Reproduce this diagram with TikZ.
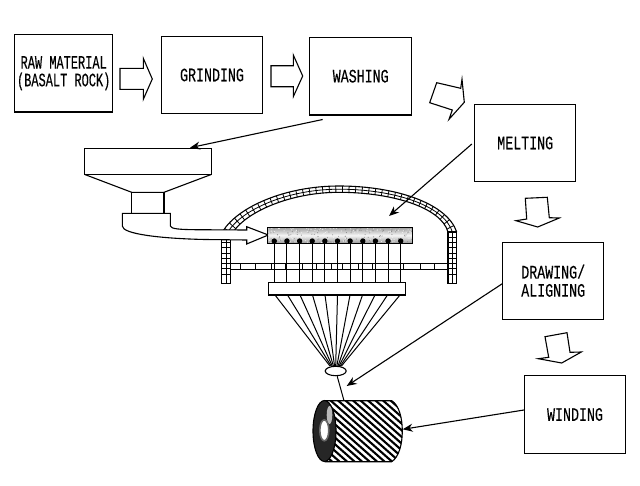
\documentclass[tikz,border=0pt]{standalone}
\usepackage{fontspec}
\usetikzlibrary{arrows.meta,calc,decorations.pathreplacing,shapes.geometric}
\newfontfamily\boxfont[FakeStretch=0.70,FakeBold=0.25]{Liberation Mono}
\newfontfamily\boxfontnarrow[FakeStretch=0.63,FakeBold=0.25]{Liberation Mono}
\tikzset{
  outline/.style={draw=black,line width=1.1pt,line join=miter},
  stagebox/.style={outline,fill=white,minimum width=101pt,minimum height=77.5pt,inner sep=0pt,
    align=center,font=\boxfont\fontsize{19}{18.2}\selectfont},
  blockarrow/.style={outline,fill=white},
  feed/.style={draw=black,line width=1.1pt,-{Stealth[length=10pt,width=8pt]}},
  brick/.style={draw=black,line width=0.8pt},
  strand/.style={draw=black,line width=1pt},
}
\begin{document}
\begin{tikzpicture}[x=1pt,y=-1pt]
\useasboundingbox[fill=white] (0,0) rectangle (640,485);

% process stages
\node[stagebox,minimum width=98pt,font=\boxfontnarrow\fontsize{19}{17.6}\selectfont] (raw) at (63.7,73.2) {RAW MATERIAL\\(BASALT ROCK)};
\node[stagebox] (grinding) at (212,75) {GRINDING};
\node[stagebox,minimum width=102pt] (washing) at (360.7,76.2) {WASHING};
\node[stagebox] (melting) at (525.2,143) {MELTING};
\node[stagebox] (drawing) at (553.2,280.8) {DRAWING/\\ALIGNING};
\node[stagebox] (winding) at (575,414.5) {WINDING};

% block arrows between stages
\draw[blockarrow] (120,68.3) -- (143.3,68.3) -- (143.3,58.3) -- (152.3,79) -- (143.3,99.3) -- (143.3,89.3) -- (120,89.3) -- cycle;
\draw[blockarrow] (271,65.7) -- (293.3,65.7) -- (293.3,55) -- (302.7,76) -- (293.3,96.7) -- (293.3,86.7) -- (271,86.7) -- cycle;
\draw[blockarrow] (436.7,82.7) -- (460.7,88.3) -- (462,79.3) -- (464.3,102.3) -- (449,119.3) -- (452.3,110) -- (429.7,102.7) -- cycle;
\draw[blockarrow] (525.3,198.3) -- (547.3,197.3) -- (549.3,217.7) -- (559.3,218) -- (537.7,227) -- (516,220.7) -- (526.7,219) -- cycle;
\draw[blockarrow] (545,336.7) -- (567,332.7) -- (570,352.3) -- (581.3,352) -- (561.7,363) -- (538.3,358.7) -- (548.7,357.3) -- cycle;

% hopper and neck
\draw[outline] (84.3,148.3) rectangle (211.7,174.3);
\draw[outline] (84.3,174.3) -- (131.7,192.3) -- (164,192.3) -- (211.7,174.3);
\draw[outline] (131.7,192.3) rectangle (164,213.3);

% furnace dome: brick band between an outer and an inner curve
\begin{scope}
  \clip (223,231) .. controls (238,207) and (285,186) .. (339,186) .. controls (395,186) and (447,203) .. (456.7,232)
    -- (448,232) .. controls (441,207) and (391,192.3) .. (339,192.3) .. controls (290,192.3) and (247,212) .. (234,231) -- cycle;
  \draw[brick,decorate,decoration={ticks,segment length=6.6pt,amplitude=7pt}]
    (228.5,231) .. controls (242.5,209.5) and (287.5,189.2) .. (339,189.2) .. controls (393,189.2) and (444,205) .. (452.4,232);
  \draw[brick] (228.5,231) .. controls (242.5,209.5) and (287.5,189.2) .. (339,189.2) .. controls (393,189.2) and (444,205) .. (452.4,232);
\end{scope}
\draw[brick,line width=1.1pt] (223,231) .. controls (238,207) and (285,186) .. (339,186) .. controls (395,186) and (447,203) .. (456.7,232);
\draw[brick,line width=1.1pt] (234,231) .. controls (247,212) and (290,192.3) .. (339,192.3) .. controls (391,192.3) and (441,207) .. (448,232);

% furnace walls
\foreach \xa/\xb in {221.7/230.7,448/456.7}{
  \draw[brick,line width=1.1pt] (\xa,232) rectangle (\xb,283.3);
  \draw[brick] ({(\xa+\xb)/2},232) -- ({(\xa+\xb)/2},283.3);
  \foreach \yy in {237,242.3,...,279}{
    \draw[brick] (\xa,\yy) -- (\xb,\yy);
  }
}

% perforated plate
\draw[brick] (230.7,263.3) rectangle (448,269.3);
\foreach \xx in {240,255,271,285,302,316,331,342,358,372,388,403,420,434}{
  \draw[brick] (\xx,263.3) -- (\xx,269.3);
}

% feed pipe from the neck into the melt tank
\draw[blockarrow] (122.3,213.3) -- (170.3,213.3) -- (170.3,226) .. controls (171,229) and (180,229.5) .. (195,229.7) -- (246.7,230) -- (246.7,226.7) -- (268.3,235) -- (246.7,244) -- (246.7,240) -- (205,239.5) .. controls (160,238.5) and (122.3,234) .. (122.3,226) -- cycle;

% melt tank: grainy dark bands at top and bottom, light melt between
\shade[top color=gray!75,bottom color=gray!80,middle color=gray!8] (267.3,227.3) rectangle (412.7,243.3);
\begin{scope}
  \pgfmathsetseed{4242}
  \clip (267.3,227.3) rectangle (412.7,243.3);
  \foreach \k in {1,...,300}{
    \pgfmathsetmacro{\px}{267.3+145.4*rnd}
    \pgfmathsetmacro{\py}{227.3+16*rnd}
    \pgfmathsetmacro{\pc}{rnd<0.6?5:45}
    \fill[black!\pc] (\px,\py) circle (0.55pt);
  }
\end{scope}
\draw[outline] (267.3,227.3) rectangle (412.7,243.3);

% filament collector
\node[outline,fill=white,minimum width=137pt,minimum height=12.3pt,inner sep=0pt] (collector) at (336.7,288.8) {};

% filaments from the nozzles to the collector, then into the gathering shoe
\node[outline,ellipse,fill=white,minimum width=21pt,minimum height=9.4pt,inner sep=0pt] (shoe) at (335.7,371) {};
\foreach \i in {0,...,10}{
  \pgfmathsetmacro{\nx}{274.3+12.64*\i}
  \fill (\nx,241) circle (2.7pt);
  \draw[strand] (\nx,241) -- (\nx,282.7);
  \pgfmathsetmacro{\tx}{275+12.5*\i}
  \pgfmathsetmacro{\bx}{335.7+1.15*(\i-5)}
  \draw[strand] (\tx,295) -- (\bx,366);
}

% fibre bobbin
\begin{scope}
  \clip (325,400.7) -- (391.7,400.7) .. controls (399,405) and (402.3,418) .. (402.3,431) .. controls (402.3,444) and (399,457) .. (391.7,461.7) -- (325,461.7) -- cycle;
  \foreach \c in {-60,-52.5,...,400}{
    \draw[line width=2.1pt] (\c,400) -- (\c+70,462);
  }
\end{scope}
\draw[outline] (325,400.7) -- (391.7,400.7) .. controls (399,405) and (402.3,418) .. (402.3,431) .. controls (402.3,444) and (399,457) .. (391.7,461.7) -- (325,461.7);
\draw[outline,fill=black!85] (324.5,431) ellipse (11.5pt and 30.5pt);
\fill[gray!55] (329.5,415) ellipse (2.8pt and 9pt);
\draw[line width=1.6pt,draw=black!60,fill=white] (324.3,430.3) ellipse (4.5pt and 10.5pt);
\coordinate (bobbinTop) at (344,400.7);
\coordinate (bobbinSide) at (402.7,429.3);
\draw[strand] (shoe.south) ++(1.5,0) -- (bobbinTop);

% leader arrows from the stages
\coordinate (hopperInlet) at (190,147.7);
\coordinate (tankPoint) at (389,216);
\coordinate (fibrePoint) at (346.7,386);
\draw[feed] ($(washing.south west)+(13.5,4)$) -- (hopperInlet);
\draw[feed] ($(melting.west)+(-2.3,1)$) -- (tankPoint);
\draw[feed] ($(drawing.west)+(0,3)$) -- (fibrePoint);
\draw[feed] ($(winding.west)+(0,-4.5)$) -- (bobbinSide);
\end{tikzpicture}
\end{document}
